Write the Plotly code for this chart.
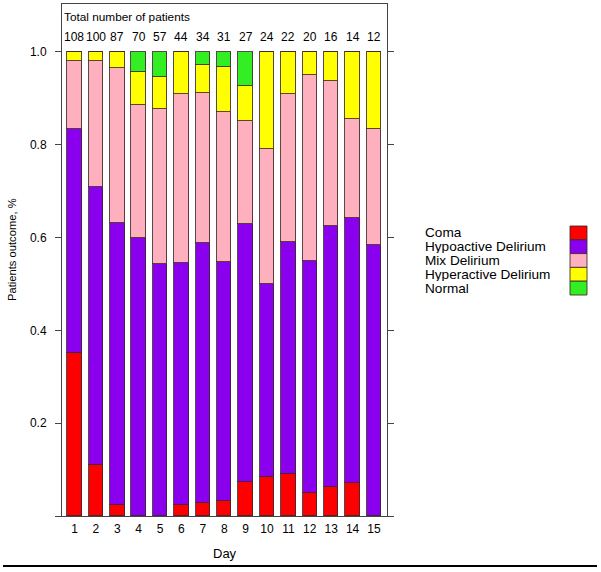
import plotly.graph_objects as go

days = list(range(1, 16))
totals = [108, 100, 87, 70, 57, 44, 34, 31, 27, 24, 22, 20, 16, 14, 12]

categories = ["Coma", "Hypoactive Delirium", "Mix Delirium", "Hyperactive Delirium", "Normal"]
colors = ["#FF0000", "#8A00EE", "#FFB0BE", "#FFFF00", "#33EE22"]

coma = [0.352, 0.110, 0.023, 0.000, 0.000, 0.023, 0.029, 0.032, 0.074, 0.083, 0.091, 0.050, 0.063, 0.071, 0.000]
hypoactive = [0.481, 0.600, 0.609, 0.600, 0.544, 0.523, 0.559, 0.516, 0.556, 0.417, 0.500, 0.500, 0.562, 0.571, 0.583]
mix = [0.148, 0.270, 0.333, 0.286, 0.333, 0.364, 0.324, 0.323, 0.222, 0.292, 0.318, 0.400, 0.312, 0.214, 0.250]
hyperactive = [0.019, 0.020, 0.035, 0.071, 0.070, 0.090, 0.059, 0.097, 0.074, 0.208, 0.091, 0.050, 0.063, 0.144, 0.167]
normal = [0.000, 0.000, 0.000, 0.043, 0.053, 0.000, 0.029, 0.032, 0.074, 0.000, 0.000, 0.000, 0.000, 0.000, 0.000]

series = [coma, hypoactive, mix, hyperactive, normal]

yticks = [0, 0.2, 0.4, 0.6, 0.8, 1.0]
yticklabels = ["", "0.2", "0.4", "0.6", "0.8", "1.0"]

FONT = "Liberation Sans, Arial, Helvetica, sans-serif"
LINE = "#444444"
BORDER = "rgba(60,40,40,0.85)"

fig = go.Figure()
for name, vals, col in zip(categories, series, colors):
    fig.add_trace(go.Bar(
        x=days, y=vals, name=name, width=0.68,
        marker=dict(color=col, line=dict(color=BORDER, width=1)),
        showlegend=False,
    ))

fig.update_layout(
    barmode="stack",
    width=601, height=572,
    margin=dict(l=62, r=214, t=4, b=56),
    paper_bgcolor="white", plot_bgcolor="white",
    font=dict(family=FONT, size=12, color="black"),
    bargap=0,
)
fig.update_xaxes(
    range=[0.416, 15.61], tickvals=days, ticktext=[str(d) for d in days],
    ticks="", showgrid=False, zeroline=False,
    showline=True, linecolor=LINE, linewidth=1, mirror=True,
    tickfont=dict(size=12), ticklabelstandoff=2,
)
fig.update_yaxes(
    range=[0, 1.1034], tickvals=yticks, ticktext=yticklabels,
    ticks="outside", ticklen=6, tickcolor=LINE, tickwidth=1,
    showgrid=False, zeroline=False,
    showline=True, linecolor=LINE, linewidth=1, mirror="allticks",
    tickfont=dict(size=12), ticklabelstandoff=6,
)

ann = []
for d, t in zip(days, totals):
    ann.append(dict(x=d, y=1.032, xref="x", yref="y", text=str(t), showarrow=False,
                    font=dict(size=12), xanchor="center", yanchor="middle"))
ann.append(dict(x=0, y=1.075, xref="paper", yref="y", text="Total number of patients",
                showarrow=False, font=dict(size=11.8), xanchor="left", yanchor="middle"))
ann.append(dict(x=(12 - 62) / 325, y=(516 - 250) / 512, xref="paper", yref="paper",
                text="Patients outcome, %", textangle=-90, showarrow=False,
                font=dict(size=11.2), xanchor="center", yanchor="middle"))
ann.append(dict(x=0.5, y=(516 - 553) / 512, xref="paper", yref="paper", text="Day",
                showarrow=False, font=dict(size=13), xanchor="center", yanchor="middle"))

shapes = []
row_h = 13.8
top_px = 226
for i, (name, col) in enumerate(zip(categories, colors)):
    y0 = top_px + i * row_h
    y1 = y0 + row_h
    shapes.append(dict(type="rect", xref="paper", yref="paper",
                       x0=(570 - 62) / 325, x1=(587 - 62) / 325,
                       y0=(516 - y1) / 512, y1=(516 - y0) / 512,
                       fillcolor=col, line=dict(color=BORDER, width=1)))
    ann.append(dict(x=(423 - 62) / 325, y=(516 - (y0 + row_h / 2)) / 512,
                    xref="paper", yref="paper", text=name, showarrow=False,
                    font=dict(size=13.6), xanchor="left", yanchor="middle",
                    height=13))

shapes.append(dict(type="line", xref="paper", yref="paper",
                   x0=(3 - 62) / 325, x1=(597 - 62) / 325,
                   y0=(516 - 566) / 512, y1=(516 - 566) / 512,
                   line=dict(color="black", width=2)))

fig.update_layout(annotations=ann, shapes=shapes)
fig.write_html("out.html", config={"displayModeBar": False},
               post_script="document.body.style.margin='0';document.body.style.padding='0';")
